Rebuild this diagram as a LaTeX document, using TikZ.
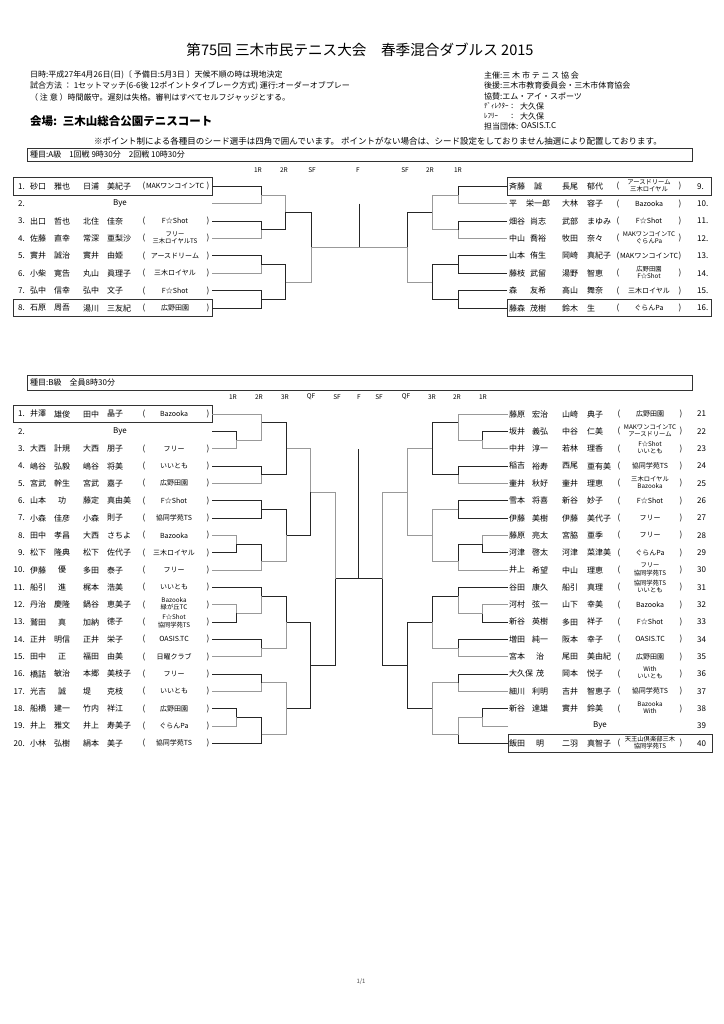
\documentclass[tikz,border=0pt]{standalone}
\usepackage{fontspec}
\setmainfont{Noto Sans CJK JP}
\newcommand\two[2]{{\fontsize{6.3}{7}\selectfont\begin{tabular}{@{}c@{}}#1\\#2\end{tabular}}}
\begin{document}
\begin{tikzpicture}[x=1pt, y=-1pt,
    nm/.style={font=\fontsize{8}{9}\selectfont, inner sep=0pt},
    clubtxt/.style={font=\fontsize{7}{8}\selectfont, inner sep=0pt},
    hdr/.style={font=\fontsize{8}{9}\selectfont, anchor=west, inner sep=0pt},
    rnd/.style={font=\fontsize{6.5}{7}\selectfont, inner sep=0pt},
    winline/.style={draw=black!85, line width=0.9pt},
    loseline/.style={draw=black!40, line width=0.8pt},
    seedbox/.style={draw=black!80, line width=0.8pt},
    classbox/.style={draw=black!80, line width=0.8pt},
  ]
  \fill[white] (0,0) rectangle (723,1024);
  \useasboundingbox (0,0) rectangle (723,1024);

  % header
  \node[font=\fontsize{14.6}{16}\selectfont] (title) at (360,50)
    {第75回 三木市民テニス大会\quad 春季混合ダブルス 2015};
  \node[hdr] (date) at (30,75) {日時:平成27年4月26日(日)〔 予備日:5月3日 〕天候不順の時は現地決定};
  \node[hdr] (rule) at (30,86) {試合方法 ： 1セットマッチ(6-6後 12ポイントタイブレーク方式) 運行:オーダーオブプレー};
  \node[hdr] (note) at (30,97) {（ 注 意 ）時間厳守。遅刻は失格。審判はすべてセルフジャッジとする。};
  \node[hdr, font=\fontsize{11.5}{13}\selectfont\bfseries] (venue) at (30,121) {会場:\enspace 三木山総合公園テニスコート};
  \node[hdr] (host) at (484,75) {主催:三 木 市 テ ニ ス 協 会};
  \node[hdr] (back) at (484,85.5) {後援:三木市教育委員会・三木市体育協会};
  \node[hdr] (spon) at (484,96) {協賛:エム・アイ・スポーツ};
  \node[hdr, font=\fontsize{7}{8}\selectfont] (dirl) at (484,106) {ﾃﾞｨﾚｸﾀｰ};
  \node[hdr] (dirc) at (511,106) {:};
  \node[hdr] (dirv) at (520,106) {大久保};
  \node[hdr, font=\fontsize{7}{8}\selectfont] (refl) at (484,116) {ﾚﾌﾘｰ};
  \node[hdr] (refc) at (511,116) {:};
  \node[hdr] (refv) at (520,116) {大久保};
  \node[hdr] (orgl) at (484,126) {担当団体:};
  \node[hdr] (orgv) at (521,126) {OASIS.T.C};
  \node[hdr, anchor=center, font=\fontsize{8.5}{10}\selectfont] (seednote) at (378,141)
    {※ポイント制による各種目のシード選手は四角で囲んでいます。 ポイントがない場合は、シード設定をしておりません抽選により配置しております。};

  % class A
  \draw[classbox] (27,148) rectangle (692,161);
  \node[hdr] (clsA) at (30,154.5) {種目:A級\quad 1回戦 9時30分\quad 2回戦 10時30分};
  \foreach \x/\t [count=\i] in {258/1R, 284/2R, 312/SF, 358/F, 405/SF, 430/2R, 458/1R}
    \node[rnd] (rA\i) at (\x,170) {\t};

  \begin{scope}[yshift=-168.9pt, y=-17.4pt]
    \foreach \n/\sa/\ga/\sb/\gb/\cl in {1/砂口/雅也/日浦/美紀子/MAKワンコインTC,
        3/出口/哲也/北住/佳奈/F☆Shot,
        4/佐藤/直幸/常深/亜梨沙/{\two{フリー}{三木ロイヤルTS}},
        5/實井/誠治/實井/由姫/アースドリーム,
        6/小柴/寛告/丸山/眞理子/三木ロイヤル,
        7/弘中/信幸/弘中/文子/F☆Shot,
        8/石原/周吾/湯川/三友紀/広野田園} {
      \node[nm, anchor=east] (al\n n) at (25,\n) {\n.};
      \node[nm, anchor=west] (al\n a) at (30,\n) {\sa};
      \node[nm] (al\n b) at (62,\n) {\ga};
      \node[nm, anchor=west] (al\n c) at (83,\n) {\sb};
      \node[nm, anchor=west] (al\n d) at (107,\n) {\gb};
      \node[nm] (al\n o) at (144,\n) {(};
      \node[clubtxt] (al\n t) at (175,\n) {\cl};
      \node[nm] (al\n e) at (208,\n) {)};
    }
    \node[nm, anchor=east] (al2 n) at (25,2) {2.};
    \node[nm] (al2 bye) at (120,2) {Bye};
    \foreach \n/\k/\sa/\ga/\sb/\gb/\cl in {1/9/斉藤/誠/長尾/郁代/{\two{アースドリーム}{三木ロイヤル}},
        2/10/平/栄一郎/大林/容子/Bazooka,
        3/11/畑谷/尚志/武部/まゆみ/F☆Shot,
        4/12/中山/喬裕/牧田/奈々/{\two{MAKワンコインTC}{ぐらんPa}},
        5/13/山本/侑生/岡崎/真紀子/MAKワンコインTC,
        6/14/藤枝/武留/湯野/智恵/{\two{広野田園}{F☆Shot}},
        7/15/森/友希/高山/舞奈/三木ロイヤル,
        8/16/藤森/茂樹/鈴木/生/ぐらんPa} {
      \node[nm, anchor=west] (ar\n a) at (509,\n) {\sa};
      \node[nm] (ar\n b) at (538,\n) {\ga};
      \node[nm, anchor=west] (ar\n c) at (562,\n) {\sb};
      \node[nm, anchor=west] (ar\n d) at (587,\n) {\gb};
      \node[nm] (ar\n o) at (618,\n) {(};
      \node[clubtxt] (ar\n t) at (649,\n) {\cl};
      \node[nm] (ar\n e) at (680,\n) {)};
      \node[nm, anchor=west] (ar\n n) at (697,\n) {\k.};
    }
    \draw[seedbox] (13,0.5) rectangle (212,1.5);
    \draw[seedbox] (13,7.5) rectangle (212,8.5);
    \draw[seedbox] (507,0.5) rectangle (711,1.5);
    \draw[seedbox] (507,7.5) rectangle (711,8.5);
    % bracket A
    \foreach \xa/\ya/\xb/\yb in {212/1/261.5/1.5, 212/3/261.5/3.5, 212/5/261.5/5.5,
        212/7/261.5/7.5, 212/8/261.5/7.5, 261.5/3.5/285.5/2.5, 261.5/5.5/285.5/6.5,
        261.5/7.5/285.5/6.5, 285.5/2.5/311/4.5,
        507/1/458/1.5, 507/3/458/3.5, 507/5/458/5.5, 507/6/458/5.5, 507/7/458/7.5,
        507/8/458/7.5, 458/5.5/432/6.5, 458/7.5/432/6.5, 432/2.5/407/4.5}
      \draw[winline] (\xa,\ya) -| (\xb,\yb);
    \foreach \xa/\ya/\xb/\yb in {212/2/261.5/1.5, 212/4/261.5/3.5, 212/6/261.5/5.5,
        261.5/1.5/285.5/2.5, 285.5/6.5/311/4.5,
        507/2/458/1.5, 507/4/458/3.5, 458/1.5/432/2.5, 458/3.5/432/2.5, 432/6.5/407/4.5}
      \draw[loseline] (\xa,\ya) -| (\xb,\yb);
    \draw[loseline] (311,4.5) -- (407,4.5);
    \draw[winline] (359,2) -- (359,4.5);
  \end{scope}

  % class B
  \draw[classbox] (27,375) rectangle (692,390);
  \node[hdr] (clsB) at (30,382.5) {種目:B級\quad 全員8時30分};
  \foreach \x/\t [count=\i] in {233/1R, 259/2R, 285/3R, 311/QF, 337/SF, 359/F,
      379/SF, 406/QF, 432/3R, 457/2R, 483/1R}
    \node[rnd] (rB\i) at (\x,397) {\t};

  \begin{scope}[yshift=-396.67pt, y=-17.33pt]
    \foreach \n/\sa/\ga/\sb/\gb/\cl in {1/井澤/雄俊/田中/晶子/Bazooka,
        3/大西/計規/大西/朋子/フリー,
        4/嶋谷/弘毅/嶋谷/将美/いいとも,
        5/宮武/幹生/宮武/嘉子/広野田園,
        6/山本/功/藤定/真由美/F☆Shot,
        7/小森/佳彦/小森/則子/協同学苑TS,
        8/田中/孝昌/大西/さちよ/Bazooka,
        9/松下/隆典/松下/佐代子/三木ロイヤル,
        10/伊藤/優/多田/泰子/フリー,
        11/船引/進/梶本/浩美/いいとも,
        12/丹治/慶隆/鍋谷/恵美子/{\two{Bazooka}{緑が丘TC}},
        13/鷲田/真/加納/徳子/{\two{F☆Shot}{協同学苑TS}},
        14/正井/明信/正井/栄子/OASIS.TC,
        15/田中/正/福田/由美/日曜クラブ,
        16/橋詰/敏治/本郷/美枝子/フリー,
        17/光吉/誠/堤/克枝/いいとも,
        18/船橋/建一/竹内/祥江/広野田園,
        19/井上/雅文/井上/寿美子/ぐらんPa,
        20/小林/弘樹/絹本/美子/協同学苑TS} {
      \node[nm, anchor=east] (bl\n n) at (25,\n) {\n.};
      \node[nm, anchor=west] (bl\n a) at (30,\n) {\sa};
      \node[nm] (bl\n b) at (62,\n) {\ga};
      \node[nm, anchor=west] (bl\n c) at (83,\n) {\sb};
      \node[nm, anchor=west] (bl\n d) at (107,\n) {\gb};
      \node[nm] (bl\n o) at (144,\n) {(};
      \node[clubtxt] (bl\n t) at (174,\n) {\cl};
      \node[nm] (bl\n e) at (208,\n) {)};
    }
    \node[nm, anchor=east] (bl2 n) at (25,2) {2.};
    \node[nm] (bl2 bye) at (120,2) {Bye};
    \foreach \n/\k/\sa/\ga/\sb/\gb/\cl in {1/21/藤原/宏治/山崎/典子/広野田園,
        2/22/坂井/義弘/中谷/仁美/{\two{MAKワンコインTC}{アースドリーム}},
        3/23/中井/淳一/若林/理香/{\two{F☆Shot}{いいとも}},
        4/24/稲吉/裕寿/西尾/亜有美/協同学苑TS,
        5/25/壷井/秋好/壷井/理恵/{\two{三木ロイヤル}{Bazooka}},
        6/26/雪本/将喜/新谷/妙子/F☆Shot,
        7/27/伊藤/美樹/伊藤/美代子/フリー,
        8/28/藤原/亮太/宮脇/亜季/フリー,
        9/29/河津/啓太/河津/菜津美/ぐらんPa,
        10/30/井上/希望/中山/理恵/{\two{フリー}{協同学苑TS}},
        11/31/谷田/康久/船引/真理/{\two{協同学苑TS}{いいとも}},
        12/32/河村/弦一/山下/幸美/Bazooka,
        13/33/新谷/英樹/多田/祥子/F☆Shot,
        14/34/増田/純一/阪本/幸子/OASIS.TC,
        15/35/宮本/治/尾田/美由紀/広野田園,
        16/36/大久保/茂/岡本/悦子/{\two{With}{いいとも}},
        17/37/細川/利明/吉井/智恵子/協同学苑TS,
        18/38/新谷/達雄/實井/鈴美/{\two{Bazooka}{With}},
        20/40/飯田/明/二羽/真智子/{\two{天王山倶楽部三木}{協同学苑TS}}} {
      \node[nm, anchor=west] (br\n a) at (509,\n) {\sa};
      \node[nm] (br\n b) at (540,\n) {\ga};
      \node[nm, anchor=west] (br\n c) at (562,\n) {\sb};
      \node[nm, anchor=west] (br\n d) at (587,\n) {\gb};
      \node[nm] (br\n o) at (619,\n) {(};
      \node[clubtxt] (br\n t) at (650,\n) {\cl};
      \node[nm] (br\n e) at (681,\n) {)};
      \node[nm, anchor=west] (br\n n) at (697,\n) {\k};
    }
    \node[nm] (br19 bye) at (600,19) {Bye};
    \node[nm, anchor=west] (br19 n) at (697,19) {39};
    \draw[seedbox] (13,0.5) rectangle (212,1.5);
    \draw[seedbox] (508,19.5) rectangle (712,20.5);
    % bracket B
    \foreach \xa/\ya/\xb/\yb in {212/2/236.7/2.5, 261.7/1.5/286.7/3, 212/4/261.7/4.5,
        261.7/4.5/286.7/3, 212/6/261.7/6.5, 212/7/261.7/6.5, 261.7/6.5/286.7/8,
        212/9/236.7/8.5, 236.7/8.5/261.7/9.5, 286.7/8/310.7/5.5, 212/11/261.7/11.5,
        212/13/236.7/12.5, 261.7/11.5/286.7/13, 212/14/261.7/14.5, 286.7/13/310.7/15.5,
        212/16/261.7/16.5, 212/18/236.7/18.5, 236.7/18.5/261.7/19.5, 212/20/261.7/19.5,
        286.7/18/310.7/15.5, 310.7/15.5/335/10.5, 335/10.5/358.7/3,
        508/2/482.7/2.5, 458.3/1.5/432.3/3, 508/4/458.3/4.5, 458.3/4.5/432.3/3,
        508/6/458.3/6.5, 508/7/458.3/6.5, 508/9/482.7/8.5, 482.7/8.5/458.3/9.5,
        508/11/458.3/11.5, 508/13/482.7/12.5, 458.3/11.5/432.3/13, 508/14/458.3/14.5,
        432.3/13/407.3/15.5, 508/16/458.3/16.5, 508/18/482.7/18.5, 508/20/458.3/19.5,
        432.3/18/407.3/15.5, 407.3/15.5/382.3/10.5}
      \draw[winline] (\xa,\ya) -| (\xb,\yb);
    \foreach \xa/\ya/\xb/\yb in {212/1/261.7/1.5, 212/3/236.7/2.5, 236.7/2.5/261.7/1.5,
        212/5/261.7/4.5, 212/8/236.7/8.5, 212/10/261.7/9.5, 261.7/9.5/286.7/8,
        286.7/3/310.7/5.5, 310.7/5.5/335/10.5, 212/12/236.7/12.5, 236.7/12.5/261.7/11.5,
        212/15/261.7/14.5, 261.7/14.5/286.7/13, 212/17/261.7/16.5, 261.7/16.5/286.7/18,
        212/19/236.7/18.5, 261.7/19.5/286.7/18,
        508/1/458.3/1.5, 508/3/482.7/2.5, 482.7/2.5/458.3/1.5, 508/5/458.3/4.5,
        432.3/3/407.3/5.5, 458.3/6.5/432.3/8, 508/8/482.7/8.5, 508/10/458.3/9.5,
        458.3/9.5/432.3/8, 432.3/8/407.3/5.5, 407.3/5.5/382.3/10.5, 508/12/482.7/12.5,
        482.7/12.5/458.3/11.5, 508/15/458.3/14.5, 458.3/14.5/432.3/13, 508/17/458.3/16.5,
        458.3/16.5/432.3/18, 508/19/482.7/18.5, 482.7/18.5/458.3/19.5, 458.3/19.5/432.3/18}
      \draw[loseline] (\xa,\ya) -| (\xb,\yb);
    \draw[winline] (382.3,10.5) -- (358.7,10.5);
  \end{scope}

  \node[font=\fontsize{6}{7}\selectfont, text=black!70] (page) at (361,982) {1/1};
\end{tikzpicture}
\end{document}
